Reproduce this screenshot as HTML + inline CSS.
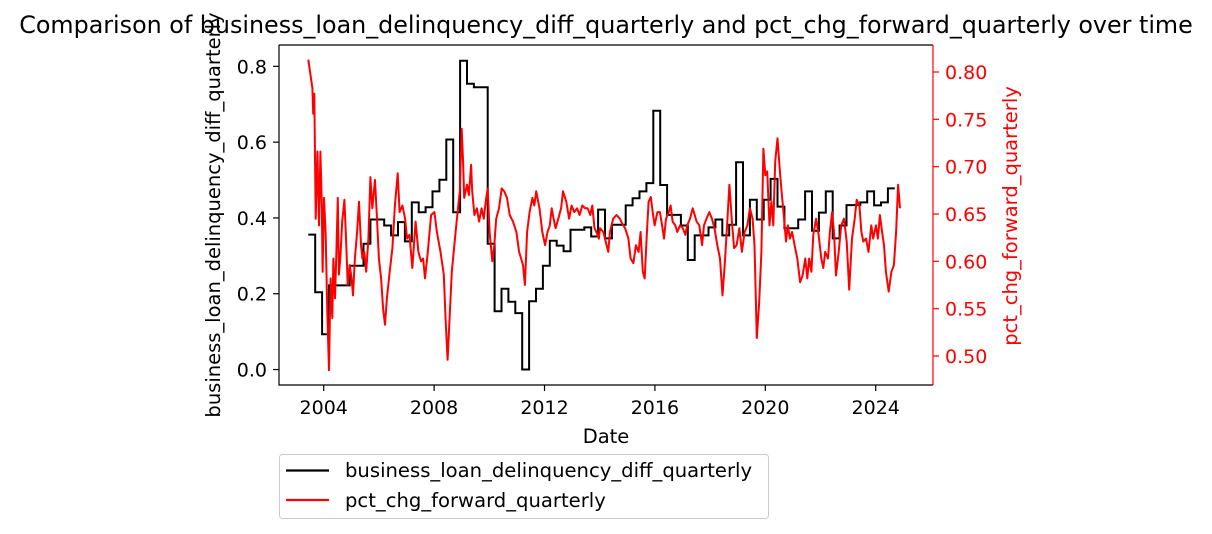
<!DOCTYPE html>
<html><head><meta charset="utf-8"><style>
body{margin:0;background:#fff;}
svg{display:block;font-family:"DejaVu Sans","Liberation Sans",sans-serif;}
</style></head><body>
<svg id="chart" width="1212" height="534" viewBox="0 0 1212 534">
<text x="606" y="33" text-anchor="middle" font-size="23.8">Comparison of business_loan_delinquency_diff_quarterly and pct_chg_forward_quarterly over time</text>
<g id="plot"></g>
<text x="606" y="443" text-anchor="middle" font-size="19.5">Date</text>
<text transform="translate(220,215) rotate(-90)" text-anchor="middle" font-size="19.5">business_loan_delinquency_diff_quarterly</text>
<text transform="translate(1017,216) rotate(-90)" text-anchor="middle" font-size="19.5" fill="#ff0000">pct_chg_forward_quarterly</text>
<g>
<rect x="279.5" y="454.5" width="489" height="64" rx="3" fill="#fff" stroke="#cccccc"/>
<line x1="286" y1="470.5" x2="329" y2="470.5" stroke="#000" stroke-width="2.2"/>
<text x="345" y="477" font-size="19.6">business_loan_delinquency_diff_quarterly</text>
<line x1="286" y1="500" x2="329" y2="500" stroke="#ff0000" stroke-width="2.2"/>
<text x="345" y="507" font-size="19.6">pct_chg_forward_quarterly</text>
</g>
</svg>
<script>
const blackStart = 2003.44;
const blackStep = 0.25;
const blackValues = [0.356,0.204,0.093,0.222,0.222,0.222,0.274,0.274,0.332,0.396,0.396,0.38,0.354,0.389,0.338,0.441,0.415,0.428,0.47,0.501,0.607,0.415,0.815,0.754,0.745,0.745,0.332,0.154,0.213,0.179,0.149,0.0,0.18,0.213,0.274,0.34,0.327,0.312,0.369,0.369,0.375,0.351,0.422,
0.346,0.382,0.382,0.433,0.452,0.47,0.492,0.683,0.487,0.408,0.408,0.38,0.289,0.354,0.354,0.375,0.396,0.354,0.382,0.547,0.354,0.448,0.396,0.448,0.503,0.43,0.373,0.373,0.396,0.47,0.366,0.414,0.47,0.346,0.38,0.434,0.434,0.441,0.47,0.433,0.441,0.478];
const redYears = [2003.44,2003.59,2003.62,2003.66,2003.71,2003.77,2003.83,2003.88,2003.93,2003.96,2004.01,2004.07,2004.13,2004.19,2004.25,2004.31,2004.35,2004.41,2004.46,2004.51,2004.55,2004.60,2004.67,2004.75,2004.82,2004.87,2004.94,2005.01,2005.06,2005.13,2005.21,2005.28,2005.35,2005.40,2005.47,2005.54,2005.62,2005.69,2005.76,2005.86,2005.93,2006.00,2006.08,2006.15,2006.22,2006.29,2006.39,2006.49,2006.58,2006.68,2006.75,2006.85,2006.95,2007.02,2007.11,2007.21,2007.33,2007.43,2007.53,2007.60,2007.67,2007.77,2007.89,2008.01,2008.10,2008.23,2008.35,2008.42,2008.49,2008.56,2008.64,2008.71,2008.78,2008.85,2008.93,2009.00,2009.05,2009.09,2009.19,2009.26,2009.34,2009.38,2009.46,2009.55,2009.63,2009.72,2009.80,2009.87,2009.94,2010.01,2010.11,2010.18,2010.25,2010.35,2010.45,2010.54,2010.64,2010.74,2010.86,2010.98,2011.08,2011.15,2011.22,2011.29,2011.37,2011.46,2011.56,2011.63,2011.70,2011.82,2011.92,2012.02,2012.11,2012.19,2012.26,2012.33,2012.40,2012.50,2012.60,2012.67,2012.79,2012.89,2012.98,2013.08,2013.18,2013.27,2013.37,2013.47,2013.56,2013.66,2013.73,2013.81,2013.88,2013.97,
2014.01,2014.13,2014.25,2014.31,2014.37,2014.49,2014.61,2014.73,2014.81,2014.92,2015.04,2015.12,2015.22,2015.31,2015.41,2015.48,2015.56,2015.63,2015.70,2015.77,2015.85,2015.92,2015.99,2016.09,2016.18,2016.26,2016.33,2016.40,2016.50,2016.57,2016.64,2016.74,2016.81,2016.91,2017.01,2017.10,2017.17,2017.27,2017.37,2017.44,2017.51,2017.61,2017.71,2017.78,2017.87,2017.97,2018.07,2018.16,2018.26,2018.36,2018.45,2018.53,2018.60,2018.70,2018.79,2018.87,2018.96,2019.06,2019.15,2019.25,2019.35,2019.44,2019.54,2019.61,2019.69,2019.78,2019.86,2019.93,2020.00,2020.07,2020.15,2020.22,2020.29,2020.36,2020.44,2020.53,2020.60,2020.68,2020.75,2020.82,2020.89,2020.97,2021.06,2021.16,2021.26,2021.35,2021.45,2021.52,2021.59,2021.67,2021.74,2021.84,2021.93,2022.03,2022.10,2022.17,2022.27,2022.34,2022.42,2022.49,2022.56,2022.66,2022.75,2022.85,2022.95,2023.04,2023.14,2023.24,2023.31,2023.41,2023.48,2023.55,2023.65,2023.74,2023.84,2023.91,2024.01,2024.08,2024.15,2024.23,2024.30,2024.37,2024.47,2024.57,2024.66,2024.74,2024.81,2024.88,2024.94,2025.00];
const redValues = [0.813,0.783,0.756,0.777,0.645,0.716,0.638,0.716,0.659,0.589,0.667,0.631,0.547,0.485,0.582,0.540,0.603,0.561,0.610,0.667,0.586,0.603,0.642,0.665,0.617,0.575,0.596,0.582,0.564,0.603,0.631,0.663,0.617,0.603,0.610,0.589,0.624,0.689,0.656,0.686,0.645,0.603,0.582,0.550,0.533,0.561,0.589,0.614,0.659,0.693,0.652,0.659,0.645,0.624,0.628,0.593,0.642,0.610,0.600,0.603,0.582,0.610,0.649,0.652,0.631,0.610,0.586,0.536,0.496,0.540,0.589,0.610,0.631,0.652,0.674,0.740,0.705,0.667,0.681,0.670,0.702,0.674,0.649,0.656,0.642,0.656,0.645,0.663,0.677,0.631,0.600,0.617,0.645,0.656,0.677,0.674,0.667,0.649,0.642,0.631,0.610,0.603,0.596,0.575,0.631,0.652,0.667,0.659,0.674,0.656,0.631,0.617,0.631,0.638,0.656,0.645,0.635,0.645,0.656,0.674,0.663,0.645,0.659,0.652,0.656,0.649,0.659,0.656,0.656,0.649,0.659,0.635,0.631,0.624,
0.635,0.631,0.617,0.610,0.631,0.645,0.649,0.645,0.640,0.635,0.624,0.603,0.598,0.617,0.610,0.631,0.589,0.582,0.624,0.663,0.668,0.652,0.638,0.652,0.652,0.638,0.624,0.645,0.652,0.659,0.642,0.638,0.631,0.638,0.635,0.628,0.638,0.645,0.656,0.649,0.642,0.638,0.617,0.638,0.645,0.652,0.645,0.635,0.617,0.603,0.564,0.596,0.631,0.681,0.642,0.614,0.617,0.635,0.610,0.631,0.638,0.656,0.645,0.617,0.519,0.557,0.610,0.719,0.691,0.695,0.638,0.663,0.638,0.705,0.730,0.695,0.670,0.645,0.621,0.638,0.624,0.631,0.617,0.603,0.578,0.585,0.603,0.582,0.603,0.589,0.628,0.645,0.628,0.603,0.593,0.610,0.603,0.631,0.652,0.631,0.585,0.610,0.638,0.645,0.621,0.570,0.624,0.645,0.665,0.659,0.631,0.621,0.624,0.610,0.638,0.624,0.638,0.624,0.649,0.631,0.617,0.589,0.568,0.589,0.596,0.631,0.681,0.656];
const leftTicks = [0.0,0.2,0.4,0.6,0.8];
const rightTicks = [0.50,0.55,0.60,0.65,0.70,0.75,0.80];
const xTicks = [2004,2008,2012,2016,2020,2024];

const L=279,R=933,T=45,B=385;
const xS = yr => L + (yr-2002.38)*27.6;
const yL = v => B - (v+0.0408)*379;
const yR = v => 72 + (0.80-v)*946.7;
const NS='http://www.w3.org/2000/svg';
const plot=document.getElementById('plot');
function mk(tag,attrs){const e=document.createElementNS(NS,tag);for(const k in attrs)e.setAttribute(k,attrs[k]);plot.appendChild(e);return e;}

let d='';
blackValues.forEach((v,i)=>{const x0=xS(blackStart+i*blackStep),x1=xS(blackStart+(i+1)*blackStep),y=yL(v);d+=(i?'L':'M')+x0.toFixed(1)+','+y.toFixed(1)+'L'+x1.toFixed(1)+','+y.toFixed(1);});
const bl=mk('path',{d:d,fill:'none',stroke:'#000','stroke-width':2});


let d2='';
redValues.forEach((v,i)=>{d2+=(i?'L':'M')+xS(redYears[i]).toFixed(1)+','+yR(v).toFixed(1);});
const rl=mk('path',{d:d2,fill:'none',stroke:'#ff0000','stroke-width':2,'stroke-linejoin':'round'});



const fr=mk('path',{d:`M${L},${T}H${R}M${L},${T}V${B}H${R}`,fill:'none',stroke:'#000','stroke-width':1.2});


const rs=mk('line',{x1:R,y1:T,x2:R,y2:B,stroke:'#ff0000','stroke-width':1.2});



xTicks.forEach(t=>{const x=xS(t);
 const tk=mk('line',{x1:x,y1:B,x2:x,y2:B+6,stroke:'#000','stroke-width':1.2});
 
 
 const tx=mk('text',{x:x,y:B+29,'text-anchor':'middle','font-size':19});tx.textContent=t;
 
 
});
leftTicks.forEach(t=>{const y=yL(t);
 const tk=mk('line',{x1:L-6,y1:y,x2:L,y2:y,stroke:'#000','stroke-width':1.2});
 
 
 const tx=mk('text',{x:L-12,y:y+7,'text-anchor':'end','font-size':19});tx.textContent=t.toFixed(1);
 
 
});
rightTicks.forEach(t=>{const y=yR(t);
 const tk=mk('line',{x1:R,y1:y,x2:R+6,y2:y,stroke:'#ff0000','stroke-width':1.2});
 
 
 const tx=mk('text',{x:R+12,y:y+7,'text-anchor':'start','font-size':19,fill:'#ff0000'});tx.textContent=t.toFixed(2);
 
 
});
</script>
</body></html>
